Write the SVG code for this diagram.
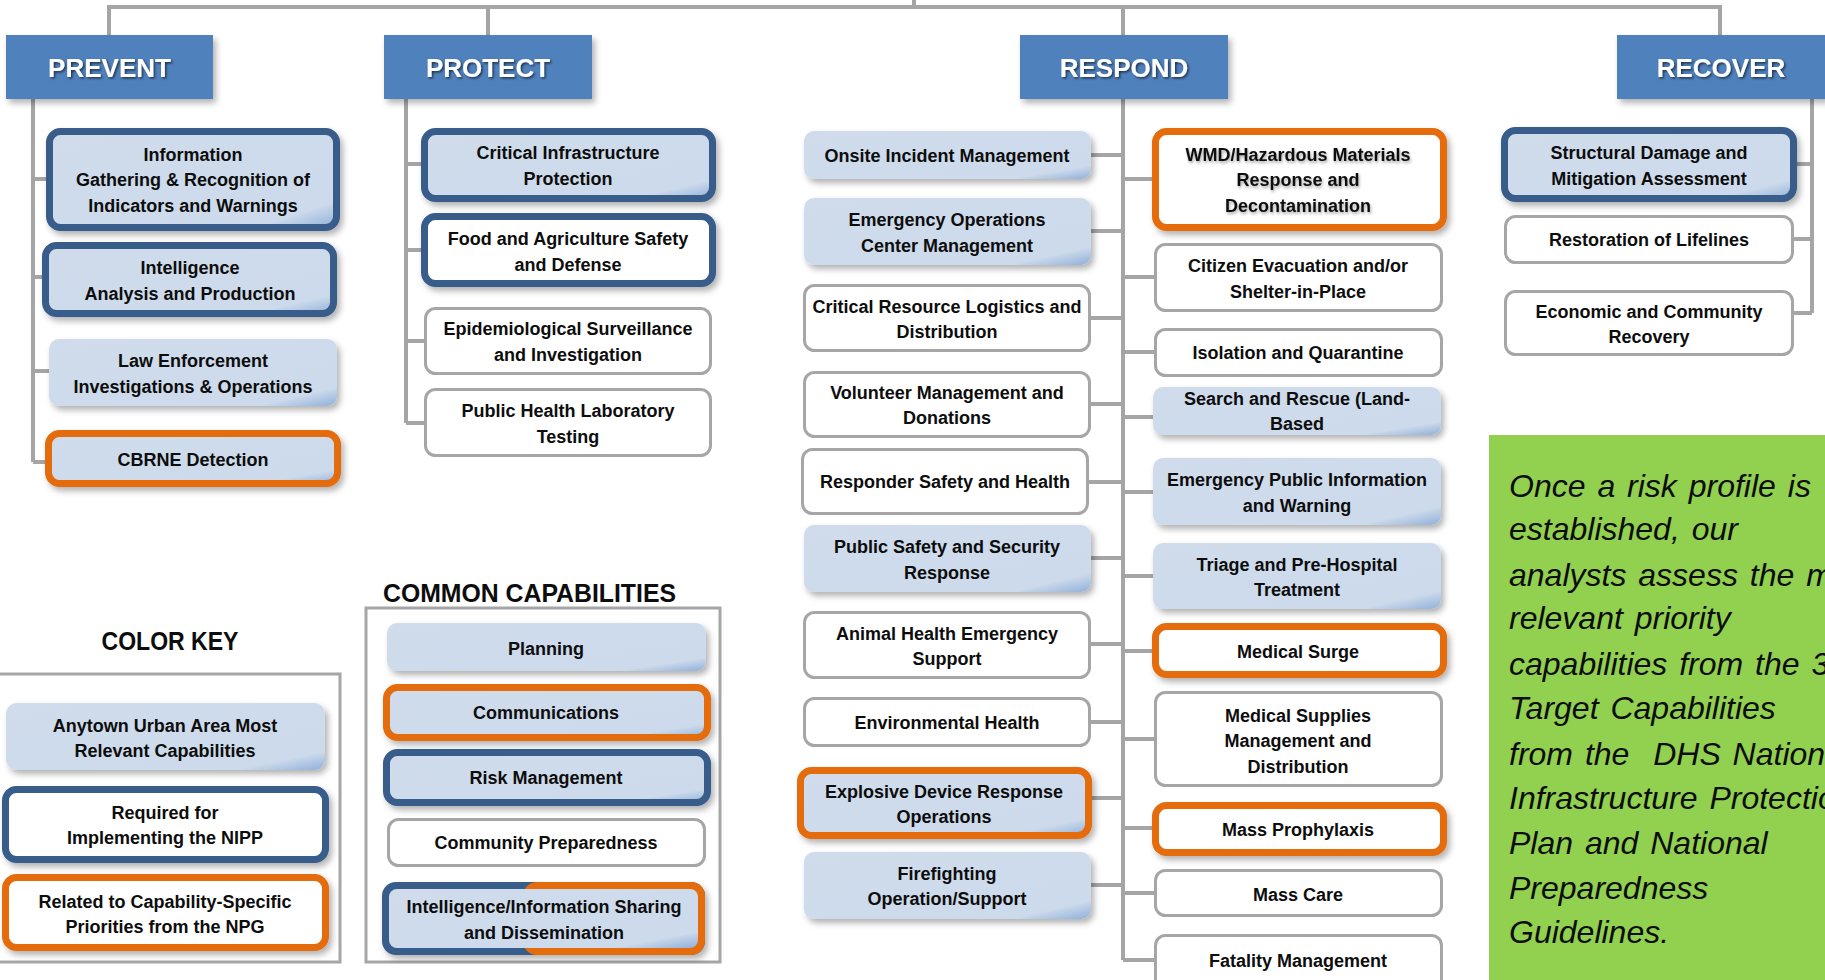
<svg xmlns="http://www.w3.org/2000/svg" width="1825" height="980" viewBox="0 0 1825 980">
<style>
.conn{stroke:#A5A5A5;stroke-width:4;fill:none}
.hdr{fill:#4F81BD;filter:url(#ds)}
.ht{font-family:'Liberation Sans',Arial,sans-serif;font-weight:bold;font-size:26px;fill:#fff;text-anchor:middle;filter:url(#ts)}
.lb{fill:url(#lbg)}
.wh{fill:#fff}
.bb{stroke:#385D8A;stroke-width:7}
.ob{stroke:#E46C0A;stroke-width:7}
.gb{stroke:#A6A6A6;stroke-width:3}
.sh{filter:url(#ds)}
.t{font-family:'Liberation Sans',Arial,sans-serif;font-weight:bold;font-size:18px;fill:#0d0d0d;text-anchor:middle}
.title{font-family:'Liberation Sans',Arial,sans-serif;font-weight:bold;font-size:26px;fill:#0d0d0d}
.frame{fill:#fff;stroke:#A6A6A6;stroke-width:3}
.note{font-family:'Liberation Sans',Arial,sans-serif;font-style:italic;font-size:32px;fill:#0d0d0d;word-spacing:3px;white-space:pre}
</style>
<defs>
<linearGradient id="lbg" x1="0" y1="0" x2="1" y2="1">
<stop offset="0" stop-color="#D0DCEC"/>
<stop offset="0.86" stop-color="#CCDAEB"/>
<stop offset="1" stop-color="#8FAFD9"/>
</linearGradient>
<filter id="ds" x="-10%" y="-20%" width="130%" height="160%">
<feDropShadow dx="3" dy="4" stdDeviation="3" flood-color="#000" flood-opacity="0.3"/>
</filter>
<filter id="ts" x="-10%" y="-20%" width="130%" height="160%">
<feDropShadow dx="1.5" dy="1.5" stdDeviation="1" flood-color="#000" flood-opacity="0.6"/>
</filter>
<filter id="gs" x="-10%" y="-30%" width="130%" height="180%">
<feDropShadow dx="1" dy="2" stdDeviation="1.5" flood-color="#000" flood-opacity="0.35"/>
</filter>
</defs>
<rect width="1825" height="980" fill="#fff"/>

<g id="connectors" class="conn">
<path d="M109 35V7H1720V35M488 7V35M1123 7V35M914 0V7"/>
<path d="M33 99V462M33 179H46M33 277H42M33 371H49M33 462H45"/>
<path d="M406 99V423M406 164H421M406 250H421M406 341H424M406 423H424"/>
<path d="M1123 99V960M1091 155H1123M1091 231H1123M1091 318H1123M1091 404H1123M1089 482H1123M1091 558H1123M1091 644H1123M1091 722H1123M1092 798H1123M1091 885H1123"/>
<path d="M1123 179H1152M1123 277H1154M1123 352H1154M1123 417H1153M1123 492H1153M1123 576H1153M1123 651H1152M1123 739H1154M1123 828H1152M1123 893H1154M1123 960H1154"/>
<path d="M1812 99V313M1797 164H1812M1794 239H1812M1794 313H1812"/>
</g>

<g id="hdr-prevent"><rect class="hdr" x="6" y="35" width="207" height="64"/><text class="ht" x="109.5" y="77">PREVENT</text></g>
<g id="hdr-protect"><rect class="hdr" x="384" y="35" width="208" height="64"/><text class="ht" x="488" y="77">PROTECT</text></g>
<g id="hdr-respond"><rect class="hdr" x="1020" y="35" width="208" height="64"/><text class="ht" x="1124" y="77">RESPOND</text></g>
<g id="hdr-recover"><rect class="hdr" x="1617" y="35" width="210" height="64"/><text class="ht" x="1721" y="77">RECOVER</text></g>

<!-- PREVENT -->
<g id="p1"><rect class="lb bb sh" x="49.5" y="131.5" width="287" height="96" rx="11"/><text class="t" x="193" y="161">Information</text><text class="t" x="193" y="186">Gathering &amp; Recognition of</text><text class="t" x="193" y="212">Indicators and Warnings</text></g>
<g id="p2"><rect class="lb bb sh" x="45.5" y="245.5" width="288" height="68" rx="11"/><text class="t" x="190" y="274">Intelligence</text><text class="t" x="190" y="300">Analysis and Production</text></g>
<g id="p3"><rect class="lb sh" x="49" y="339" width="288" height="67" rx="10"/><text class="t" x="193" y="367">Law Enforcement</text><text class="t" x="193" y="393">Investigations &amp; Operations</text></g>
<g id="p4"><rect class="lb ob sh" x="48.5" y="433.5" width="289" height="50" rx="11"/><text class="t" x="193" y="466">CBRNE Detection</text></g>

<!-- PROTECT -->
<g id="t1"><rect class="lb bb sh" x="424.5" y="131.5" width="288" height="67" rx="11"/><text class="t" x="568" y="159">Critical Infrastructure</text><text class="t" x="568" y="185">Protection</text></g>
<g id="t2"><rect class="wh bb sh" x="424.5" y="216.5" width="288" height="67" rx="11"/><text class="t" x="568" y="245">Food and Agriculture Safety</text><text class="t" x="568" y="271">and Defense</text></g>
<g id="t3"><rect class="wh gb" x="425.5" y="308.5" width="285" height="65" rx="10"/><text class="t" x="568" y="335">Epidemiological Surveillance</text><text class="t" x="568" y="361">and Investigation</text></g>
<g id="t4"><rect class="wh gb" x="425.5" y="389.5" width="285" height="66" rx="10"/><text class="t" x="568" y="417">Public Health Laboratory</text><text class="t" x="568" y="443">Testing</text></g>

<!-- RESPOND left -->
<g id="l1"><rect class="lb sh" x="804" y="131" width="287" height="48" rx="10"/><text class="t" x="947" y="162">Onsite Incident Management</text></g>
<g id="l2"><rect class="lb sh" x="804" y="198" width="287" height="67" rx="10"/><text class="t" x="947" y="226">Emergency Operations</text><text class="t" x="947" y="252">Center Management</text></g>
<g id="l3"><rect class="wh gb" x="804.5" y="285.5" width="285" height="65" rx="10"/><text class="t" x="947" y="313">Critical Resource Logistics and</text><text class="t" x="947" y="338">Distribution</text></g>
<g id="l4"><rect class="wh gb" x="804.5" y="372.5" width="285" height="64" rx="10"/><text class="t" x="947" y="399">Volunteer Management and</text><text class="t" x="947" y="424">Donations</text></g>
<g id="l5"><rect class="wh gb" x="802.5" y="449.5" width="285" height="64" rx="10"/><text class="t" x="945" y="488">Responder Safety and Health</text></g>
<g id="l6"><rect class="lb sh" x="804" y="525" width="287" height="67" rx="10"/><text class="t" x="947" y="553">Public Safety and Security</text><text class="t" x="947" y="579">Response</text></g>
<g id="l7"><rect class="wh gb" x="804.5" y="612.5" width="285" height="65" rx="10"/><text class="t" x="947" y="640">Animal Health Emergency</text><text class="t" x="947" y="665">Support</text></g>
<g id="l8"><rect class="wh gb" x="804.5" y="698.5" width="285" height="47" rx="10"/><text class="t" x="947" y="729">Environmental Health</text></g>
<g id="l9"><rect class="lb ob sh" x="800.5" y="770.5" width="288" height="65" rx="11"/><text class="t" x="944" y="798">Explosive Device Response</text><text class="t" x="944" y="823">Operations</text></g>
<g id="l10"><rect class="lb sh" x="804" y="852" width="287" height="67" rx="10"/><text class="t" x="947" y="880">Firefighting</text><text class="t" x="947" y="905">Operation/Support</text></g>

<!-- RESPOND right -->
<g id="r1"><rect class="wh ob sh" x="1155.5" y="131.5" width="288" height="96" rx="11"/><g filter="url(#gs)"><text class="t" x="1298" y="161">WMD/Hazardous Materials</text><text class="t" x="1298" y="186">Response and</text><text class="t" x="1298" y="212">Decontamination</text></g></g>
<g id="r2"><rect class="wh gb" x="1155.5" y="244.5" width="286" height="66" rx="10"/><text class="t" x="1298" y="272">Citizen Evacuation and/or</text><text class="t" x="1298" y="298">Shelter-in-Place</text></g>
<g id="r3"><rect class="wh gb" x="1155.5" y="329.5" width="286" height="46" rx="10"/><text class="t" x="1298" y="359">Isolation and Quarantine</text></g>
<g id="r4"><rect class="lb sh" x="1153" y="387" width="288" height="48" rx="10"/><text class="t" x="1297" y="405">Search and Rescue (Land-</text><text class="t" x="1297" y="430">Based</text></g>
<g id="r5"><rect class="lb sh" x="1153" y="458" width="288" height="67" rx="10"/><text class="t" x="1297" y="486">Emergency Public Information</text><text class="t" x="1297" y="512">and Warning</text></g>
<g id="r6"><rect class="lb sh" x="1153" y="543" width="288" height="66" rx="10"/><text class="t" x="1297" y="571">Triage and Pre-Hospital</text><text class="t" x="1297" y="596">Treatment</text></g>
<g id="r7"><rect class="wh ob sh" x="1155.5" y="626.5" width="288" height="48" rx="11"/><text class="t" x="1298" y="658">Medical Surge</text></g>
<g id="r8"><rect class="wh gb" x="1155.5" y="692.5" width="286" height="93" rx="10"/><text class="t" x="1298" y="722">Medical Supplies</text><text class="t" x="1298" y="747">Management and</text><text class="t" x="1298" y="773">Distribution</text></g>
<g id="r9"><rect class="wh ob sh" x="1155.5" y="805.5" width="288" height="47" rx="11"/><text class="t" x="1298" y="836">Mass Prophylaxis</text></g>
<g id="r10"><rect class="wh gb" x="1155.5" y="870.5" width="286" height="45" rx="10"/><text class="t" x="1298" y="901">Mass Care</text></g>
<g id="r11"><rect class="wh gb" x="1155.5" y="935.5" width="286" height="60" rx="10"/><text class="t" x="1298" y="967">Fatality Management</text></g>

<!-- RECOVER -->
<g id="v1"><rect class="lb bb sh" x="1504.5" y="130.5" width="289" height="68" rx="11"/><text class="t" x="1649" y="159">Structural Damage and</text><text class="t" x="1649" y="185">Mitigation Assessment</text></g>
<g id="v2"><rect class="wh gb" x="1505.5" y="216.5" width="287" height="46" rx="10"/><text class="t" x="1649" y="246">Restoration of Lifelines</text></g>
<g id="v3"><rect class="wh gb" x="1505.5" y="291.5" width="287" height="63" rx="10"/><text class="t" x="1649" y="318">Economic and Community</text><text class="t" x="1649" y="343">Recovery</text></g>

<!-- COLOR KEY -->
<g id="colorkey">
<text class="title" x="170" y="650" text-anchor="middle" textLength="137" lengthAdjust="spacingAndGlyphs">COLOR KEY</text>
<rect class="frame" x="-5" y="674" width="345" height="288"/>
</g>
<g id="k1"><rect class="lb sh" x="6" y="703" width="319" height="67" rx="11"/><text class="t" x="165" y="732">Anytown Urban Area Most</text><text class="t" x="165" y="757">Relevant Capabilities</text></g>
<g id="k2"><rect class="wh bb sh" x="5.5" y="789.5" width="320" height="70" rx="11"/><text class="t" x="165" y="819">Required for</text><text class="t" x="165" y="844">Implementing the NIPP</text></g>
<g id="k3"><rect class="wh ob sh" x="5.5" y="877.5" width="320" height="70" rx="11"/><text class="t" x="165" y="908">Related to Capability-Specific</text><text class="t" x="165" y="933">Priorities from the NPG</text></g>

<!-- COMMON CAPABILITIES -->
<g id="common">
<text class="title" x="383" y="602" textLength="293" lengthAdjust="spacingAndGlyphs">COMMON CAPABILITIES</text>
<rect class="frame" x="366" y="608" width="354" height="354"/>
</g>
<g id="c1"><rect class="lb sh" x="387" y="623" width="319" height="48" rx="10"/><text class="t" x="546" y="655">Planning</text></g>
<g id="c2"><rect class="lb ob sh" x="386.5" y="687.5" width="321" height="50" rx="11"/><text class="t" x="546" y="719">Communications</text></g>
<g id="c3"><rect class="lb bb sh" x="386.5" y="752.5" width="321" height="50" rx="11"/><text class="t" x="546" y="784">Risk Management</text></g>
<g id="c4"><rect class="wh gb" x="388.5" y="819.5" width="316" height="46" rx="10"/><text class="t" x="546" y="849">Community Preparedness</text></g>
<g id="c5">
<g class="sh"><rect x="382" y="882" width="323" height="73" rx="14" fill="#385D8A"/><rect x="523" y="882" width="182" height="73" rx="14" fill="#E46C0A"/></g>
<rect class="lb" x="389" y="889" width="309" height="59" rx="8"/>
<text class="t" x="544" y="913">Intelligence/Information Sharing</text><text class="t" x="544" y="939">and Dissemination</text>
</g>

<!-- NOTE -->
<g id="note">
<rect x="1489" y="435" width="340" height="545" fill="#92D050"/>
<text class="note" x="1509" y="497">Once a risk profile is</text>
<text class="note" x="1509" y="540">established, our</text>
<text class="note" x="1509" y="586">analysts assess the most</text>
<text class="note" x="1509" y="629">relevant priority</text>
<text class="note" x="1509" y="675">capabilities from the 37</text>
<text class="note" x="1509" y="719">Target Capabilities</text>
<text class="note" x="1509" y="765">from the  DHS National</text>
<text class="note" x="1509" y="809">Infrastructure Protection</text>
<text class="note" x="1509" y="854">Plan and National</text>
<text class="note" x="1509" y="899">Preparedness</text>
<text class="note" x="1509" y="943">Guidelines.</text>
</g>
</svg>
